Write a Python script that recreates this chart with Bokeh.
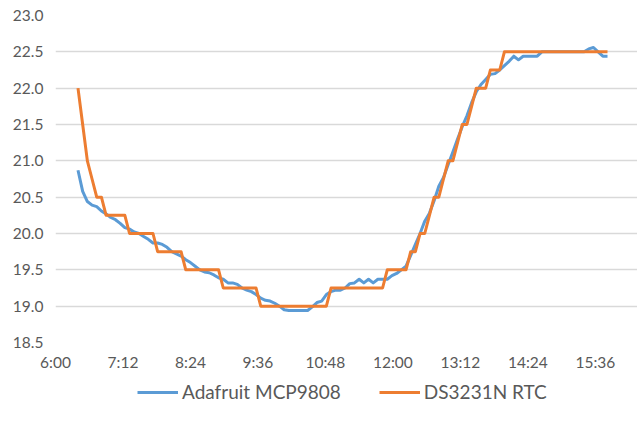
import pandas as pd
from bokeh.plotting import figure
from bokeh.layouts import column
from bokeh.models import (ColumnDataSource, FixedTicker, DatetimeTickFormatter,
                          NumeralTickFormatter, Range1d, Legend, LegendItem)
from bokeh.embed import file_html
from bokeh.resources import INLINE

# ---- data (readings every 5 minutes starting 6:24) ----
day = "2017-01-01"
start_time = "06:24"
step_minutes = 5

mcp9808 = [
    20.87, 20.58, 20.44, 20.39, 20.37, 20.31, 20.27, 20.22, 20.19, 20.14,
    20.08, 20.06, 20.02, 20.00, 19.96, 19.92, 19.87, 19.87, 19.85, 19.81,
    19.75, 19.72, 19.69, 19.64, 19.60, 19.55, 19.50, 19.47, 19.46, 19.43,
    19.39, 19.37, 19.32, 19.32, 19.30, 19.25, 19.22, 19.20, 19.16, 19.11,
    19.08, 19.07, 19.04, 19.00, 18.95, 18.94, 18.94, 18.94, 18.94, 18.94,
    18.99, 19.05, 19.07, 19.16, 19.20, 19.22, 19.22, 19.25, 19.31, 19.32,
    19.37, 19.32, 19.37, 19.32, 19.37, 19.37, 19.37, 19.42, 19.45, 19.50,
    19.55, 19.70, 19.85, 20.00, 20.17, 20.28, 20.45, 20.65, 20.77, 20.95,
    21.12, 21.30, 21.47, 21.62, 21.80, 21.95, 22.05, 22.12, 22.19, 22.20,
    22.25, 22.31, 22.37, 22.44, 22.39, 22.44, 22.44, 22.44, 22.44, 22.50,
    22.50, 22.50, 22.50, 22.50, 22.50, 22.50, 22.50, 22.50, 22.50, 22.54,
    22.56, 22.50, 22.44, 22.44,
]

ds3231 = [
    22.00, 21.50, 21.00, 20.75, 20.50, 20.50, 20.25, 20.25, 20.25, 20.25,
    20.25, 20.00, 20.00, 20.00, 20.00, 20.00, 20.00, 19.75, 19.75, 19.75,
    19.75, 19.75, 19.75, 19.50, 19.50, 19.50, 19.50, 19.50, 19.50, 19.50,
    19.50, 19.25, 19.25, 19.25, 19.25, 19.25, 19.25, 19.25, 19.25, 19.00,
    19.00, 19.00, 19.00, 19.00, 19.00, 19.00, 19.00, 19.00, 19.00, 19.00,
    19.00, 19.00, 19.00, 19.00, 19.25, 19.25, 19.25, 19.25, 19.25, 19.25,
    19.25, 19.25, 19.25, 19.25, 19.25, 19.25, 19.50, 19.50, 19.50, 19.50,
    19.50, 19.75, 19.75, 20.00, 20.00, 20.25, 20.50, 20.50, 20.75, 21.00,
    21.00, 21.25, 21.50, 21.50, 21.75, 22.00, 22.00, 22.00, 22.25, 22.25,
    22.25, 22.50, 22.50, 22.50, 22.50, 22.50, 22.50, 22.50, 22.50, 22.50,
    22.50, 22.50, 22.50, 22.50, 22.50, 22.50, 22.50, 22.50, 22.50, 22.50,
    22.50, 22.50, 22.50, 22.50,
]

x_tick_labels = ["6:00", "7:12", "8:24", "9:36", "10:48", "12:00", "13:12", "14:24", "15:36"]
y_ticks = [18.5, 19.0, 19.5, 20.0, 20.5, 21.0, 21.5, 22.0, 22.5, 23.0]
x_end = "16:21"

series_names = ["Adafruit MCP9808", "DS3231N RTC"]
colors = ["#5B9BD5", "#ED7D31"]

times = pd.date_range(pd.Timestamp(f"{day} {start_time}"), periods=len(mcp9808),
                      freq=f"{step_minutes}min")
src = ColumnDataSource(dict(t=times, mcp=mcp9808, rtc=ds3231))

def ts(hm):
    return pd.Timestamp(f"{day} {hm}")

tick_ms = [ts(s).value // 10**6 for s in x_tick_labels]

FONT = "Lato"
TXT = "#595959"

# ---- main chart ----
p = figure(width=637, height=380, x_axis_type="datetime",
           output_backend="svg", toolbar_location=None,
           x_range=Range1d(ts(x_tick_labels[0]), ts(x_end)),
           y_range=Range1d(y_ticks[0], y_ticks[-1]),
           min_border_left=55, min_border_right=0, min_border_top=15,
           min_border_bottom=38)
p.outline_line_color = None
p.background_fill_color = "white"

p.line("t", "mcp", source=src, color=colors[0], line_width=3, line_join="round")
p.line("t", "rtc", source=src, color=colors[1], line_width=3, line_join="round")

p.xaxis.ticker = FixedTicker(ticks=tick_ms)
p.xaxis.formatter = DatetimeTickFormatter(hours="%-H:%M", minutes="%-H:%M",
                                          hourmin="%-H:%M", days="%-H:%M")
p.yaxis.ticker = FixedTicker(ticks=y_ticks)
p.yaxis.formatter = NumeralTickFormatter(format="0.0")

for ax in (p.xaxis[0], p.yaxis[0]):
    ax.axis_line_color = None
    ax.major_tick_line_color = None
    ax.minor_tick_line_color = None
    ax.major_label_text_font = FONT
    ax.major_label_text_font_size = "15.5px"
    ax.major_label_text_color = TXT
p.xaxis.major_label_standoff = 4
p.yaxis.major_label_standoff = 6

p.xgrid.grid_line_color = None
p.ygrid.grid_line_color = "#D9D9D9"
p.ygrid.grid_line_width = 1.3

# ---- legend strip (same series, drawn outside its visible range) ----
lg = figure(width=637, height=36, x_axis_type="datetime",
            output_backend="svg", toolbar_location=None,
            x_range=p.x_range, y_range=Range1d(0, 1),
            min_border=0, min_border_left=0, min_border_right=0,
            min_border_top=0, min_border_bottom=0)
lg.axis.visible = False
lg.grid.visible = False
lg.outline_line_color = None
l1 = lg.line("t", "mcp", source=src, color=colors[0], line_width=3)
l2 = lg.line("t", "rtc", source=src, color=colors[1], line_width=3)

legend = Legend(items=[LegendItem(label=series_names[0], renderers=[l1]),
                       LegendItem(label=series_names[1], renderers=[l2])],
                orientation="horizontal", location=(82, 13),
                border_line_alpha=0, background_fill_alpha=0,
                label_text_font=FONT, label_text_font_size="19px",
                label_text_color=TXT, glyph_width=41, label_standoff=4,
                spacing=38, padding=0, margin=0)
lg.add_layout(legend)

layout = column(p, lg, spacing=0)
open("out.html", "w").write(file_html(layout, INLINE))
